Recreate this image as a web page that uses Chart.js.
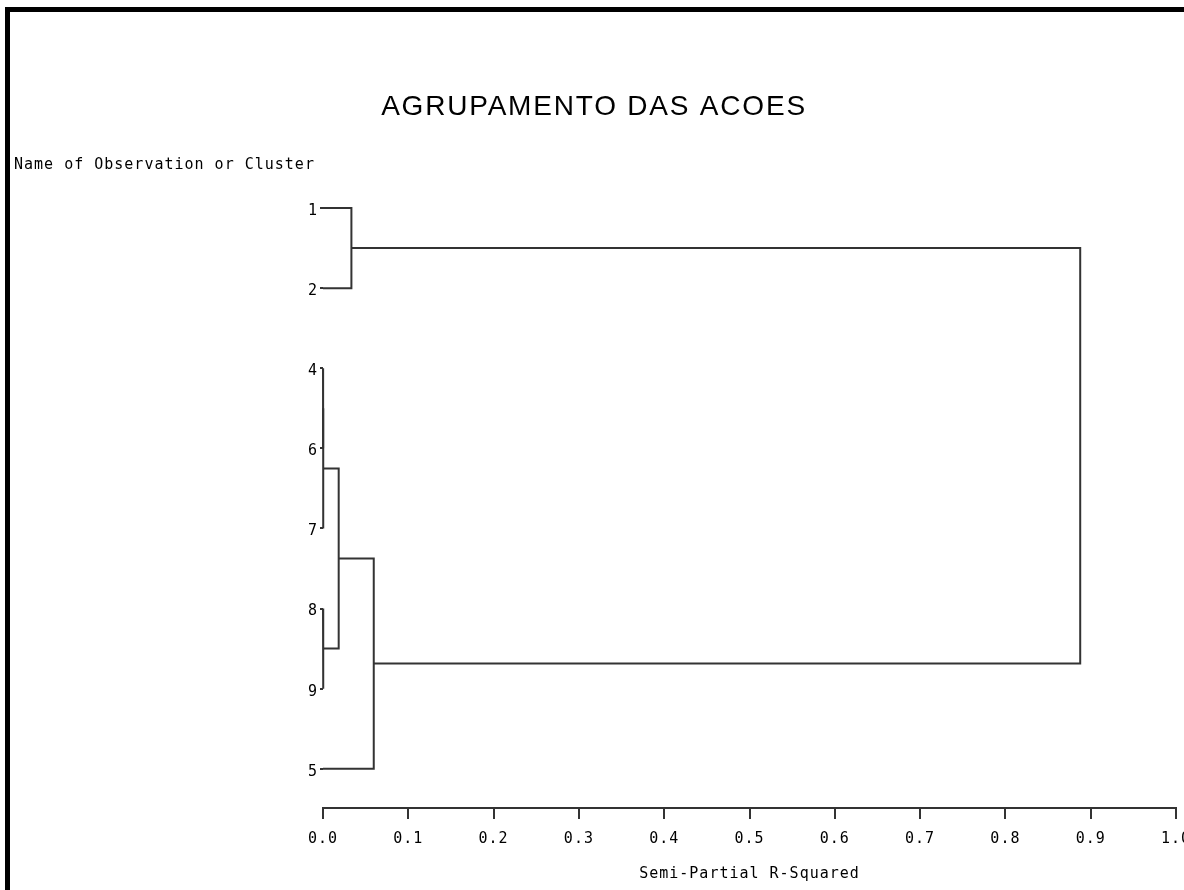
<!DOCTYPE html>
<html>
<head>
<meta charset="utf-8">
<script src="https://cdn.jsdelivr.net/npm/chart.js@4.4.1/dist/chart.umd.min.js"></script>
<style>
  html, body { margin: 0; padding: 0; background: #fff; }
  #wrap { position: relative; width: 1184px; height: 890px; overflow: hidden; }
  #frame { position: absolute; left: 5px; top: 7px; right: 0; bottom: 0; border-top: 5px solid #000; border-left: 5px solid #000; pointer-events: none; }
</style>
</head>
<body>
<div id="wrap">
  <canvas id="tree" width="1184" height="890"></canvas>
  <div id="frame"></div>
</div>
<script>
const chartTitle = "AGRUPAMENTO DAS ACOES";
const yAxisTitle = "Name of Observation or Cluster";
const xAxisTitle = "Semi-Partial R-Squared";

// leaves from top to bottom
const leaves = ["1", "2", "4", "6", "7", "8", "9", "5"];

// joins, lowest first; names are leaves or earlier clusters
const clusterNames = ["CL7", "CL6", "CL5", "CL4", "CL3", "CL2", "CL1"];
const joinLeft = ["4", "CL7", "8", "CL6", "1", "CL4", "CL3"];
const joinRight = ["6", "7", "9", "CL5", "2", "5", "CL2"];
const joinHeight = [0.0002, 0.0004, 0.0004, 0.0184, 0.0333, 0.0595, 0.8877];

const xTicks = [0, 0.1, 0.2, 0.3, 0.4, 0.5, 0.6, 0.7, 0.8, 0.9, 1.0];

const monoFont = { family: "'DejaVu Sans Mono', monospace", size: 15 };
const lineColor = "#333";

// each leaf starts at height 0, each cluster sits midway between its children
const pos = {};
leaves.forEach((name, i) => pos[name] = { x: 0, y: i });
const segments = clusterNames.map((name, k) => {
    const a = pos[joinLeft[k]];
    const b = pos[joinRight[k]];
    const h = joinHeight[k];
    pos[name] = { x: h, y: (a.y + b.y) / 2 };
    return [
        { x: a.x, y: a.y },
        { x: h, y: a.y },
        { x: h, y: b.y },
        { x: b.x, y: b.y }
    ];
});

const textPlugin = {
    id: "texts",
    beforeDraw(chart) {
        chart.ctx.letterSpacing = "1px";
    },
    afterDraw(chart) {
        const c = chart.ctx;
        c.save();
        c.fillStyle = "#000";
        c.letterSpacing = "1.8px";
        c.font = "28px 'Liberation Sans', Arial, sans-serif";
        c.textAlign = "center";
        c.textBaseline = "middle";
        c.fillText(chartTitle, 594, 107);
        c.letterSpacing = "1px";
        c.font = "15px 'DejaVu Sans Mono', monospace";
        c.textAlign = "left";
        c.fillText(yAxisTitle, 14, 165);
        c.restore();
    }
};

const ctx = document.getElementById("tree").getContext("2d");
new Chart(ctx, {
    type: "scatter",
    data: {
        datasets: segments.map((pts, k) => ({
            label: clusterNames[k],
            data: pts,
            showLine: true,
            borderColor: lineColor,
            borderWidth: 2,
            pointRadius: 0,
            tension: 0,
            fill: false,
            clip: false
        }))
    },
    options: {
        responsive: false,
        animation: false,
        layout: { padding: { top: 168, right: 8, bottom: 0, left: 0 } },
        plugins: {
            legend: { display: false },
            tooltip: { enabled: false }
        },
        scales: {
            x: {
                type: "linear",
                min: 0,
                max: 1,
                afterBuildTicks: s => { s.ticks = xTicks.map(v => ({ value: v })); },
                ticks: {
                    callback: v => Number(v).toFixed(1),
                    color: "#000",
                    font: monoFont,
                    padding: 11,
                    maxRotation: 0,
                    autoSkip: false
                },
                grid: { drawOnChartArea: false, tickLength: 11, color: lineColor, lineWidth: 2 },
                border: { color: lineColor, width: 2 },
                title: {
                    display: true,
                    text: xAxisTitle,
                    color: "#000",
                    font: monoFont,
                    padding: { top: 0, bottom: 7 }
                },
                afterFit: s => { s.height = 82; s.paddingLeft = 0; s.paddingRight = 0; }
            },
            y: {
                type: "linear",
                reverse: true,
                min: -0.5,
                max: 7.49,
                afterBuildTicks: s => { s.ticks = leaves.map((_, i) => ({ value: i })); },
                ticks: {
                    callback: v => leaves[v],
                    color: "#000",
                    font: monoFont,
                    padding: 2,
                    labelOffset: 3,
                    autoSkip: false
                },
                grid: { drawOnChartArea: false, tickLength: 3, color: lineColor, lineWidth: 2 },
                border: { display: false },
                afterFit: s => { s.width = 323; }
            }
        }
    },
    plugins: [textPlugin]
});
</script>
</body>
</html>
